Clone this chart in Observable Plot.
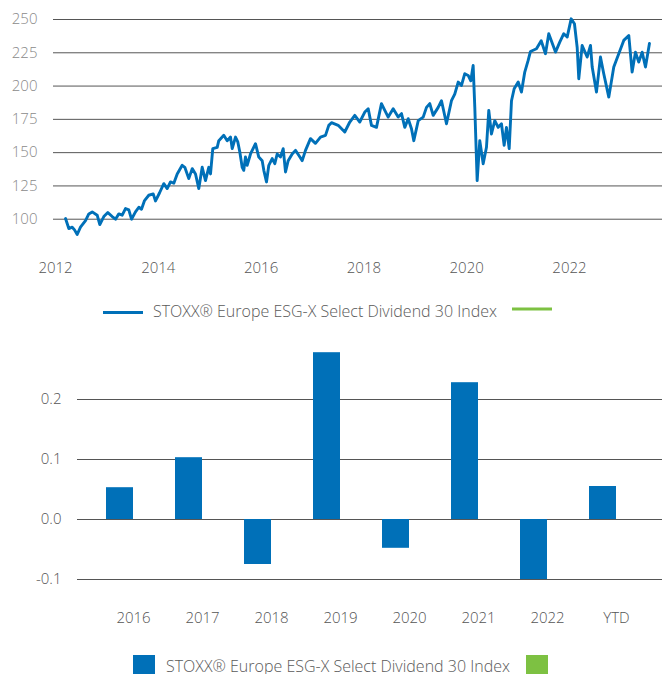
<!DOCTYPE html>
<html><head><meta charset="utf-8">
<script src="https://cdn.jsdelivr.net/npm/d3@7"></script>
<script src="https://cdn.jsdelivr.net/npm/@observablehq/plot@0.6"></script>
<style>
body{margin:0;background:#fff;font-family:"Open Sans",sans-serif;}
#wrap{position:relative;width:662px;height:674px;overflow:hidden;}
.abs{position:absolute;left:0;}
.leg{position:absolute;display:flex;align-items:center;font-size:16px;color:#5a5a5a;font-weight:300;white-space:nowrap;font-family:"Open Sans",sans-serif;}
.leg svg{display:block;}
</style></head><body><div id="wrap"></div>
<script>
const seriesName = "STOXX® Europe ESG-X Select Dividend 30 Index";
const blue = "#0070b8";
const green = "#7dc142";

// Line chart: index level over time (decimal years)
const lineYears = [2012.195,2012.259,2012.325,2012.370,2012.422,2012.486,2012.584,2012.648,2012.714,2012.811,2012.862,2012.940,2013.018,2013.103,2013.167,2013.232,2013.298,2013.362,2013.426,2013.479,2013.556,2013.621,2013.673,2013.732,2013.815,2013.901,2013.946,2014.023,2014.107,2014.173,2014.237,2014.302,2014.368,2014.465,2014.516,2014.593,2014.660,2014.724,2014.788,2014.854,2014.918,2014.982,2015.016,2015.060,2015.146,2015.177,2015.274,2015.340,2015.405,2015.438,2015.502,2015.547,2015.586,2015.632,2015.663,2015.696,2015.729,2015.794,2015.891,2015.955,2016.021,2016.053,2016.105,2016.150,2016.216,2016.267,2016.313,2016.377,2016.430,2016.475,2016.527,2016.605,2016.669,2016.733,2016.800,2016.864,2016.961,2017.058,2017.156,2017.253,2017.317,2017.370,2017.500,2017.628,2017.726,2017.823,2017.920,2018.018,2018.084,2018.148,2018.245,2018.342,2018.407,2018.473,2018.570,2018.667,2018.732,2018.796,2018.862,2018.926,2018.971,2019.057,2019.154,2019.218,2019.282,2019.348,2019.446,2019.510,2019.607,2019.704,2019.768,2019.835,2019.899,2019.963,2020.029,2020.080,2020.126,2020.158,2020.204,2020.255,2020.321,2020.385,2020.430,2020.482,2020.547,2020.613,2020.677,2020.729,2020.774,2020.827,2020.872,2020.924,2021.002,2021.066,2021.130,2021.196,2021.241,2021.358,2021.450,2021.533,2021.597,2021.728,2021.811,2021.889,2021.955,2022.033,2022.097,2022.150,2022.181,2022.247,2022.344,2022.409,2022.442,2022.525,2022.603,2022.667,2022.765,2022.862,2022.959,2023.056,2023.154,2023.219,2023.284,2023.348,2023.414,2023.479,2023.556];
const lineValues = [100.5,93,94,92,88.5,94,99,104,105.5,103,96,102,105,102,100,104,103,108,107,100,105.5,109,107.5,114,118,119,113.7,119.7,126.7,123,128,127,134,140.5,139,130.5,138,134,123,139,129,139,134,153,154,159,163,159,161.7,153,161.7,158,150.5,139,136.7,146.7,140.5,149,156.7,146.7,144,136.7,128,140.5,145.5,141.7,149,146.7,153,135.5,144,149,151.7,148,144,151.7,160.5,157,161.7,163,170.5,172.5,170.5,165.5,173,178,173,180.5,183,170.5,169,186.8,181.7,176.7,183,176.7,179.3,169,175.5,168,159,174,176.7,184,186.8,178,184,189,171.7,189,194,203,200.5,209.3,208,204,215.5,184,129,159,141.7,154,181.7,164,174,169,171.7,155.5,169,153,189,198,203,195.5,210.5,219.3,226,228,234,224.3,239.3,225.5,233,239.3,236.8,250.5,246.8,229,205.5,230.5,221.8,230.5,214.3,195.5,221.8,209.3,191.7,214.3,224.3,234.3,238,210.5,225.5,218,225.5,214.3,232];
const lineTicksY = [100,125,150,175,200,225,250];
const lineTicksX = [2012,2014,2016,2018,2020,2022];

// Bar chart: annual returns
const barCategories = ["2016","2017","2018","2019","2020","2021","2022","YTD"];
const barValues = [0.053,0.103,-0.075,0.278,-0.048,0.228,-0.100,0.055];
const barTicksY = [-0.1,0,0.1,0.2];

const wrap = document.getElementById("wrap");

// ---- top line chart ----
const lineData = lineYears.map((t,i)=>({t, v: lineValues[i]}));
const topPlot = Plot.plot({
  width: 662, height: 290,
  marginLeft: 53, marginRight: 0, marginTop: 19, marginBottom: 38,
  style: {fontFamily: "'Open Sans', sans-serif", fontSize: "15px", fontWeight: 300, background: "transparent", color: "#555"},
  x: {type: "linear", domain: [2011.961, 2023.81], ticks: lineTicksX, tickFormat: d => String(d), tickSize: 0, tickPadding: 10, label: null},
  y: {domain: [75, 250], ticks: lineTicksY, tickSize: 0, tickPadding: 16, label: null},
  marks: [
    Plot.ruleY(lineTicksY, {stroke: "#555", strokeWidth: 1}),
    Plot.line(lineData, {x: "t", y: "v", stroke: blue, strokeWidth: 2.9, strokeLinejoin: "round"})
  ]
});
topPlot.classList.add("abs");
topPlot.style.top = "0px";
topPlot.querySelectorAll('[aria-label^="y-axis"]').forEach(g => { g.style.color = "#8a8a8a"; g.setAttribute("fill", "#8a8a8a"); });
wrap.appendChild(topPlot);

// ---- legend 1 ----
const leg1 = document.createElement("div");
leg1.className = "leg";
leg1.style.left = "103px"; leg1.style.top = "300px"; leg1.style.height = "22px";
leg1.innerHTML = `<svg width="40" height="22"><line x1="0" x2="40" y1="12.5" y2="12.5" stroke="${blue}" stroke-width="3"/></svg>`
  + `<span style="margin-left:10px">${seriesName}</span>`
  + `<svg width="40" height="22" style="margin-left:15px"><line x1="0" x2="40" y1="9" y2="9" stroke="${green}" stroke-width="3"/></svg>`;
wrap.appendChild(leg1);

// ---- bottom bar chart ----
const barData = barCategories.map((c,i)=>({c, v: barValues[i]}));
const barOpts = (inset) => ({
  width: 662, height: 300,
  marginLeft: 77, marginRight: 0, marginTop: 4, marginBottom: 32,
  style: {fontFamily: "'Open Sans', sans-serif", fontSize: "15px", fontWeight: 300, background: "transparent", color: "#555"},
  x: {type: "band", domain: barCategories, paddingInner: 0.217, paddingOuter: 0.3475, align: 0.6, tickSize: 0, tickPadding: 9, label: null},
  y: {domain: [-0.14, 0.3], ticks: barTicksY, tickFormat: d => d.toFixed(1), tickSize: 0, tickPadding: 16, label: null},
  marks: [
    Plot.ruleY(barTicksY, {stroke: "#555", strokeWidth: 1}),
    Plot.barY(barData, {x: "c", y: "v", fill: blue, insetRight: inset, insetLeft: 0})
  ]
});
const probe = Plot.plot(barOpts(0));
const bw = probe.scale("x").bandwidth;
const botPlot = Plot.plot(barOpts(bw / 2));
botPlot.classList.add("abs");
botPlot.style.top = "335px";
wrap.appendChild(botPlot);

// ---- legend 2 ----
const leg2 = document.createElement("div");
leg2.className = "leg";
leg2.style.left = "133px"; leg2.style.top = "655px"; leg2.style.height = "22px";
leg2.innerHTML = `<svg width="22" height="22"><rect width="22" height="22" fill="${blue}"/></svg>`
  + `<span style="margin-left:11px">${seriesName}</span>`
  + `<svg width="22" height="22" style="margin-left:16px"><rect width="22" height="22" fill="${green}"/></svg>`;
wrap.appendChild(leg2);
</script>
</body></html>
